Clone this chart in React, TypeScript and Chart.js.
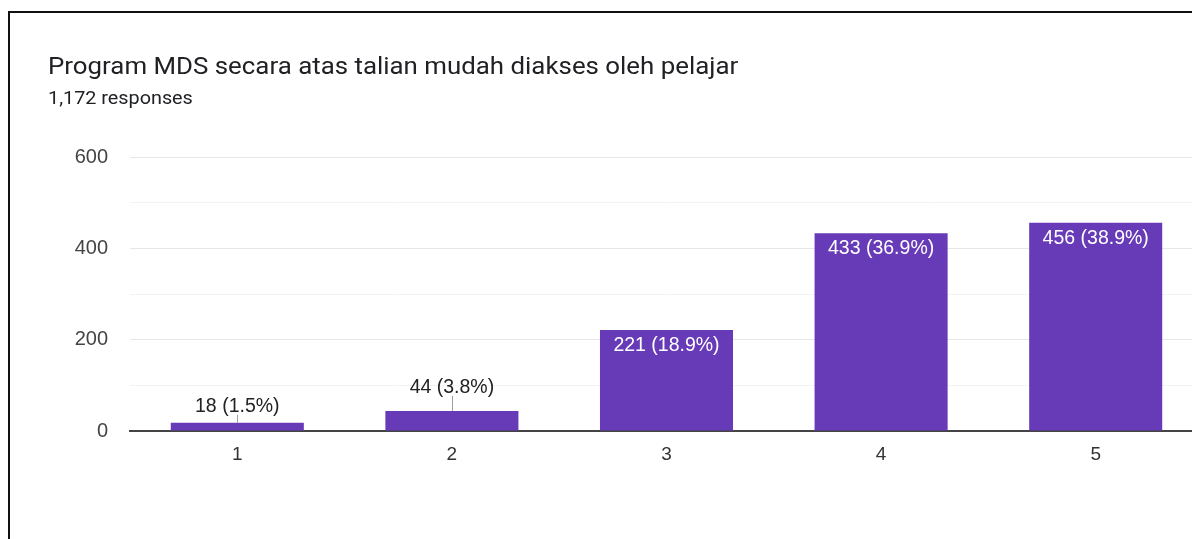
import React, { useEffect, useRef } from "react";
import { Chart, registerables } from "chart.js";

Chart.register(...registerables);

const TITLE = "Program MDS secara atas talian mudah diakses oleh pelajar";
const SUBTITLE = "1,172 responses";
const categories = ["1", "2", "3", "4", "5"];
const counts = [18, 44, 221, 433, 456];
const totalResponses = 1172;
const yTicks = [0, 200, 400, 600];

const BAR_COLOR = "#673ab7";

const labelPlugin = {
  id: "barAnnotations",
  afterDatasetsDraw(chart: any) {
    const ctx = chart.ctx;
    const meta = chart.getDatasetMeta(0);
    const base = chart.scales.y.getPixelForValue(0);
    ctx.save();
    ctx.font = "19.5px 'Liberation Sans', Arial, sans-serif";
    ctx.textAlign = "center";
    meta.data.forEach((bar: any, i: number) => {
      const v = counts[i];
      const pct = ((v / totalResponses) * 100).toFixed(1);
      const text = `${v} (${pct}%)`;
      const h = base - bar.y;
      if (h > 40) {
        ctx.fillStyle = "#ffffff";
        ctx.textBaseline = "alphabetic";
        ctx.fillText(text, bar.x, bar.y + 21);
      } else {
        const off = 6 + h * 0.6;
        const baseline = bar.y - off;
        ctx.strokeStyle = "#9e9e9e";
        ctx.lineWidth = 1;
        ctx.beginPath();
        ctx.moveTo(Math.round(bar.x) + 0.5, bar.y);
        ctx.lineTo(Math.round(bar.x) + 0.5, baseline + 3);
        ctx.stroke();
        ctx.fillStyle = "#222222";
        ctx.textBaseline = "alphabetic";
        ctx.fillText(text, bar.x, baseline);
      }
    });
    ctx.restore();
  },
};

export default function App() {
  const ref = useRef<HTMLCanvasElement | null>(null);
  useEffect(() => {
    if (!ref.current) return;
    const chart = new Chart(ref.current, {
      type: "bar",
      data: {
        labels: categories,
        datasets: [
          {
            data: counts,
            backgroundColor: BAR_COLOR,
            barPercentage: 0.62,
            categoryPercentage: 1,
          },
        ],
      },
      options: {
        animation: false,
        responsive: false,
        maintainAspectRatio: false,
        layout: { padding: { top: 157, left: 0, right: 0, bottom: 0 } },
        plugins: {
          legend: { display: false },
          tooltip: { enabled: false },
          title: { display: false },
        },
        scales: {
          x: {
            z: 1,
            grid: { display: false, drawTicks: false },
            border: { display: true, color: "#444444", width: 2 },
            ticks: {
              color: "#333333",
              padding: 12,
              font: { family: "'Liberation Sans', Arial, sans-serif", size: 19 },
            },
            afterFit(scale: any) {
              scale.height = 108;
            },
          },
          y: {
            min: 0,
            max: 600,
            grid: {
              drawTicks: false,
              color: (c: any) => (c.tick && c.tick.value % 200 === 0 ? "#e6e6e6" : "#f3f3f3"),
              lineWidth: 1,
            },
            border: { display: false },
            ticks: {
              stepSize: 100,
              padding: 22,
              color: "#444444",
              font: { family: "'Liberation Sans', Arial, sans-serif", size: 20 },
              callback: (v: any) => (yTicks.includes(Number(v)) ? String(v) : ""),
            },
            afterFit(scale: any) {
              scale.width = 130;
            },
          },
        },
      },
      plugins: [labelPlugin],
    });
    return () => chart.destroy();
  }, []);

  return (
    <div
      style={{
        position: "absolute",
        left: 0,
        top: 0,
        width: 1192,
        height: 539,
        overflow: "hidden",
        background: "#ffffff",
      }}
    >
      <canvas
        ref={ref}
        width={1203}
        height={539}
        style={{ position: "absolute", left: 0, top: 0, width: 1203, height: 539 }}
      />
      <div
        style={{
          position: "absolute",
          left: 8,
          top: 11,
          width: 1300,
          height: 600,
          borderLeft: "2px solid #111",
          borderTop: "2px solid #111",
          pointerEvents: "none",
        }}
      />
      <div
        style={{
          position: "absolute",
          left: 48,
          top: 55,
          fontFamily: "Roboto, Arial, sans-serif",
          fontSize: 23.5,
          lineHeight: "23.5px",
          color: "#202124",
          whiteSpace: "nowrap",
          transform: "scaleX(1.1)",
          transformOrigin: "0 0",
        }}
      >
        {TITLE}
      </div>
      <div
        style={{
          position: "absolute",
          left: 48,
          top: 89,
          fontFamily: "Roboto, Arial, sans-serif",
          fontSize: 18.5,
          lineHeight: "18.5px",
          color: "#202124",
          whiteSpace: "nowrap",
          transform: "scaleX(1.07)",
          transformOrigin: "0 0",
        }}
      >
        {SUBTITLE}
      </div>
    </div>
  );
}
